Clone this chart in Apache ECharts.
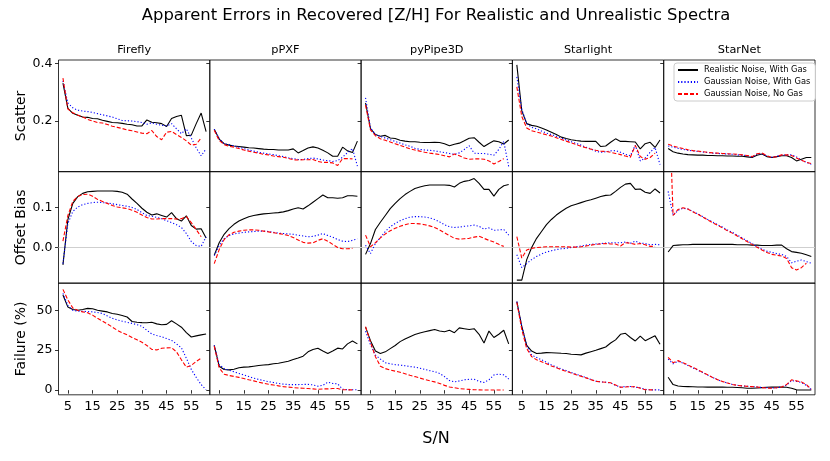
<!DOCTYPE html>
<html>
<head>
<meta charset="utf-8">
<script src="https://cdn.jsdelivr.net/npm/echarts@6/dist/echarts.min.js"></script>
<style>html,body{margin:0;padding:0;background:#fff;}#c{width:830px;height:461px;}</style>
</head>
<body>
<div id="c"></div>
<script>
// ---- data ----
const snr = [3,5,7,9,11,13,15,17,19,21,23,25,27,29,31,33,35,37,39,41,43,45,47,49,51,53,55,57,59,61];
const methods = ['Firefly','pPXF','pyPipe3D','Starlight','StarNet'];
const seriesNames = ['Realistic Noise, With Gas','Gaussian Noise, With Gas','Gaussian Noise, No Gas'];
const rowNames = ['Scatter','Offset Bias','Failure (%)'];
const snrTicks = [5,15,25,35,45,55];
const scatterTicks = [0.2,0.4];
const biasTicks = [0.0,0.1];
const failTicks = [0,25,50];

// Firefly
const FF_S_R = [0.331,0.243,0.226,0.219,0.213,0.212,0.208,0.207,0.202,0.198,0.194,0.193,0.191,0.188,0.186,0.182,0.182,0.203,0.195,0.193,0.19,0.18,0.208,0.215,0.219,0.148,0.15,0.19,0.227,0.162];
const FF_S_G = [0.339,0.262,0.245,0.237,0.234,0.232,0.229,0.225,0.221,0.217,0.213,0.207,0.201,0.200,0.199,0.197,0.194,0.188,0.193,0.188,0.184,0.182,0.19,0.172,0.155,0.172,0.14,0.105,0.078,0.102];
const FF_S_N = [0.349,0.241,0.228,0.220,0.213,0.205,0.199,0.194,0.192,0.187,0.181,0.177,0.173,0.168,0.165,0.161,0.157,0.155,0.166,0.145,0.134,0.16,0.163,0.152,0.142,0.13,0.115,0.118,0.14,null];
const FF_O_R = [-0.043,0.07,0.11,0.127,0.135,0.139,0.14,0.141,0.141,0.141,0.141,0.14,0.138,0.133,0.121,0.11,0.098,0.088,0.081,0.084,0.080,0.076,0.087,0.072,0.066,0.079,0.055,0.046,0.047,0.024];
const FF_O_G = [-0.04,0.06,0.09,0.101,0.107,0.11,0.112,0.113,0.112,0.111,0.109,0.107,0.105,0.103,0.1,0.095,0.087,0.08,0.078,0.075,0.072,0.067,0.062,0.057,0.05,0.035,0.015,0.005,0.003,0.027];
const FF_O_N = [0.016,0.08,0.115,0.127,0.132,0.133,0.128,0.12,0.115,0.11,0.105,0.101,0.099,0.097,0.093,0.088,0.081,0.075,0.071,0.071,0.072,0.072,0.072,0.071,0.072,0.077,0.062,0.045,0.027,null];
const FF_F_R = [59.6,52,50.5,50,50.5,51.2,51,50,49.5,49,48,47.5,46.8,45.8,43,42.5,42.3,42.2,42.5,41.5,41,41.2,43.5,41.5,39.4,36,33.3,34,34.6,35.2];
const FF_F_G = [60.6,53,50,49.5,49.4,49.2,49,48.6,48,46.5,45,44,43.2,42.5,41.8,41,40,37.5,35.2,34.2,33.5,32.3,31.2,29,26.5,20,13,8,3.5,0.3];
const FF_F_N = [63.1,56.5,51.5,50,49,48.5,47,45,43.3,41.5,39.5,37.5,36,34.6,33,31.5,30,28,25.5,25.2,26.2,26.5,26.6,24,19,14.4,15.5,18,20,null];
// pPXF
const PP_S_R = [0.170,0.136,0.120,0.115,0.112,0.110,0.108,0.106,0.105,0.103,0.101,0.100,0.100,0.098,0.098,0.098,0.102,0.088,0.096,0.105,0.109,0.105,0.097,0.088,0.076,0.076,0.108,0.095,0.089,0.129];
const PP_S_G = [0.17,0.138,0.12,0.117,0.112,0.108,0.103,0.098,0.094,0.09,0.087,0.084,0.082,0.078,0.075,0.071,0.068,0.065,0.065,0.068,0.07,0.067,0.063,0.061,0.058,0.061,0.073,0.089,0.103,0.042];
const PP_S_N = [0.167,0.131,0.117,0.111,0.108,0.103,0.098,0.094,0.09,0.087,0.083,0.081,0.077,0.075,0.073,0.069,0.064,0.063,0.064,0.064,0.065,0.058,0.055,0.055,0.053,0.044,0.068,0.068,0.067,null];
const PP_O_R = [-0.019,0.012,0.033,0.047,0.058,0.066,0.072,0.077,0.08,0.082,0.084,0.085,0.086,0.087,0.089,0.092,0.096,0.099,0.096,0.104,0.113,0.122,0.131,0.124,0.124,0.123,0.124,0.129,0.129,0.128];
const PP_O_G = [-0.02,0.005,0.022,0.03,0.034,0.036,0.038,0.039,0.04,0.041,0.041,0.04,0.038,0.036,0.035,0.034,0.033,0.031,0.029,0.027,0.028,0.031,0.035,0.03,0.026,0.02,0.016,0.015,0.018,0.022];
const PP_O_N = [-0.04,-0.005,0.02,0.032,0.038,0.041,0.043,0.044,0.044,0.043,0.041,0.039,0.037,0.035,0.033,0.03,0.025,0.019,0.013,0.011,0.012,0.018,0.022,0.016,0.008,0.0,-0.003,-0.003,-0.002,null];
const PP_F_R = [28.1,15,12.9,12.7,13.1,14,14.4,14.6,15,15.4,15.8,16,16.5,16.9,17.5,18.1,19.2,20.2,21.3,24,25.5,26.2,24.5,23,24.5,26.3,25.8,29,30.8,29];
const PP_F_G = [28,16,13.5,12.5,11.5,10.5,9.5,8.5,7.5,6.7,6,5.3,4.8,4.2,3.8,3.5,3.5,3.5,3.6,3.6,3.3,2.5,3,5,4.2,4,0.6,0.3,0.3,0.3];
const PP_F_N = [27.5,14,10,9.2,8.6,8,7.3,6.5,5.8,5,4.3,3.7,3.2,2.7,2.2,1.9,1.6,1.4,1.2,1.0,0.8,0.5,0.8,0.8,1.0,1.0,0.3,0.2,0.2,null];
// pyPipe3D
const PY_S_R = [0.262,0.173,0.152,0.146,0.149,0.14,0.138,0.132,0.129,0.127,0.127,0.125,0.124,0.124,0.125,0.124,0.12,0.113,0.118,0.122,0.13,0.139,0.141,0.125,0.11,0.121,0.13,0.127,0.119,0.133];
const PY_S_G = [0.28,0.175,0.152,0.145,0.14,0.134,0.128,0.122,0.116,0.111,0.104,0.1,0.098,0.097,0.095,0.092,0.089,0.086,0.083,0.088,0.1,0.113,0.087,0.086,0.086,0.083,0.08,0.1,0.128,0.04];
const PY_S_N = [0.255,0.168,0.148,0.137,0.132,0.126,0.12,0.114,0.108,0.102,0.098,0.094,0.09,0.087,0.085,0.082,0.078,0.074,0.084,0.078,0.07,0.066,0.067,0.067,0.066,0.06,0.049,0.058,0.068,null];
const PY_O_R = [-0.017,0.01,0.045,0.063,0.08,0.097,0.11,0.122,0.132,0.14,0.147,0.151,0.154,0.156,0.156,0.156,0.156,0.155,0.151,0.16,0.165,0.167,0.172,0.16,0.145,0.145,0.128,0.145,0.154,0.157];
const PY_O_G = [0.006,-0.015,0.01,0.025,0.04,0.052,0.06,0.067,0.072,0.076,0.077,0.077,0.076,0.074,0.07,0.064,0.057,0.052,0.05,0.051,0.053,0.054,0.056,0.053,0.046,0.049,0.043,0.044,0.045,0.031];
const PY_O_N = [0.031,0.002,0.012,0.024,0.034,0.042,0.048,0.053,0.057,0.06,0.06,0.059,0.057,0.054,0.05,0.044,0.037,0.03,0.023,0.021,0.022,0.023,0.026,0.028,0.023,0.018,0.014,0.008,0.003,null];
const PY_F_R = [39.5,31,24.5,23,24,26,28,30.4,32,33.5,34.8,35.8,36.6,37.3,38,37,36.6,37.5,36,39,38.5,38,38.5,35,29.5,37,33,35,37.5,29];
const PY_F_G = [37,28.5,22,19.5,17.2,16.5,16,15.7,15.3,14.8,14.4,13.8,13,12.2,11.6,10.5,8.5,6,5.2,5.8,6.5,6.8,6.8,5.5,4.8,6.5,9.5,10,9.6,7];
const PY_F_N = [39.8,30,21,15,13.5,12.6,11.9,11.2,10.3,9.3,8.5,7.6,6.7,5.9,5.2,4.2,3,2,1.5,1,0.7,0.5,0.3,0.2,0.1,0.1,0.1,0.1,0.1,null];
// Starlight
const SL_S_R = [0.395,0.235,0.19,0.184,0.181,0.175,0.168,0.16,0.152,0.143,0.138,0.134,0.131,0.129,0.128,0.128,0.128,0.11,0.112,0.125,0.137,0.128,0.128,0.127,0.126,0.102,0.12,0.125,0.107,0.133];
const SL_S_G = [0.353,0.24,0.19,0.177,0.172,0.164,0.157,0.152,0.146,0.14,0.133,0.127,0.121,0.115,0.108,0.102,0.094,0.09,0.092,0.095,0.096,0.09,0.083,0.078,0.115,0.06,0.07,0.09,0.107,0.047];
const SL_S_N = [0.318,0.215,0.175,0.165,0.161,0.156,0.151,0.147,0.141,0.135,0.129,0.123,0.117,0.111,0.106,0.101,0.097,0.094,0.093,0.09,0.086,0.082,0.077,0.073,0.114,0.075,0.066,0.072,0.087,null];
const SL_O_R = [-0.081,-0.081,-0.03,0.0,0.023,0.04,0.057,0.07,0.081,0.09,0.098,0.104,0.108,0.112,0.116,0.119,0.123,0.127,0.13,0.131,0.14,0.15,0.158,0.16,0.145,0.146,0.138,0.135,0.146,0.136];
const SL_O_G = [-0.018,-0.05,-0.04,-0.03,-0.022,-0.016,-0.011,-0.008,-0.005,-0.003,-0.002,0.0,0.002,0.004,0.006,0.008,0.009,0.01,0.011,0.012,0.012,0.012,0.014,0.011,0.016,0.011,0.01,0.007,0.008,0.007];
const SL_O_N = [0.027,-0.026,-0.006,-0.002,0.0,0.001,0.002,0.002,0.002,0.002,0.002,0.001,0.001,0.002,0.004,0.006,0.008,0.009,0.01,0.009,0.009,0.004,0.012,0.011,0.008,0.01,0.007,0.003,0.003,null];
const SL_F_R = [55.4,40,28,24.5,23,23.2,23.5,23.4,23.3,23.1,23,22.5,22.3,22.1,23.2,24.1,25,26,27,29.5,31.5,35,35.6,33,30.8,33.8,31,32.5,34,28.7];
const SL_F_G = [55.4,40,28,22,20.5,19,17.5,15.8,14.6,13.3,12.3,11.1,10,9,7.9,6.7,5.6,5.2,5,4.5,3,1.9,2.3,2.3,1.9,1.5,0.5,0.2,0.2,0.2];
const SL_F_N = [55,38,26,21,19,17.8,16.5,15.2,14,12.8,11.8,10.7,9.7,8.7,7.7,6.6,5.5,5.2,5,4.6,3.2,1.8,2,2.2,2.1,1.2,0.3,0.2,0.2,null];
// StarNet
const SN_S_R = [0.103,0.092,0.087,0.084,0.082,0.081,0.08,0.08,0.079,0.079,0.078,0.078,0.077,0.077,0.076,0.076,0.074,0.072,0.08,0.084,0.075,0.072,0.075,0.078,0.078,0.072,0.06,0.066,0.072,0.072];
const SN_S_G = [0.112,0.108,0.104,0.1,0.097,0.095,0.093,0.091,0.089,0.087,0.086,0.085,0.084,0.083,0.081,0.08,0.078,0.073,0.083,0.086,0.077,0.073,0.076,0.08,0.081,0.081,0.074,0.063,0.055,0.048];
const SN_S_N = [0.118,0.112,0.107,0.103,0.099,0.096,0.094,0.092,0.09,0.088,0.087,0.086,0.085,0.084,0.083,0.081,0.079,0.075,0.085,0.088,0.078,0.072,0.075,0.081,0.081,0.079,0.07,0.062,0.055,0.051];
const SN_O_R = [-0.011,0.005,0.006,0.007,0.007,0.008,0.008,0.008,0.008,0.008,0.008,0.008,0.008,0.008,0.007,0.007,0.007,0.006,0.006,0.005,0.005,0.005,0.006,0.006,-0.003,-0.01,-0.012,-0.014,-0.018,-0.022];
const SN_O_G = [0.14,0.08,0.093,0.098,0.096,0.09,0.084,0.077,0.07,0.064,0.057,0.051,0.044,0.038,0.031,0.024,0.017,0.01,0.002,-0.004,-0.009,-0.012,-0.015,-0.017,-0.022,-0.038,-0.034,-0.031,-0.035,-0.039];
const SN_O_N = [0.44,0.08,0.095,0.099,0.096,0.089,0.083,0.076,0.069,0.062,0.056,0.049,0.042,0.036,0.029,0.022,0.015,0.008,0.001,-0.006,-0.012,-0.017,-0.019,-0.021,-0.027,-0.05,-0.056,-0.05,-0.039,null];
const SN_F_R = [8.1,3.5,2.6,2.3,2.2,2.1,2,2,1.9,1.9,1.9,1.9,1.8,1.8,1.7,1.5,1.2,1.2,1.4,1.6,1.8,1.9,1.9,1.9,1.8,1.2,0.2,0.1,0.1,0.1];
const SN_F_G = [19.5,16.5,18,17,15.5,14,12.5,11,9.5,8,6.6,5.4,4.5,3.6,3,2.7,2.4,2.2,2,1.7,1.5,1.3,1.5,2,3.2,6,5.5,4.8,3,0.3];
const SN_F_N = [20.6,17.2,18.5,17.2,15.8,14.3,12.8,11.2,9.6,8,6.6,5.4,4.5,3.6,3,2.7,2.4,2.2,2,1.6,1.3,1.2,1.5,2,3.5,6.5,5.8,5.2,3.5,0.5];

const panels = [
  [[FF_S_R,FF_S_G,FF_S_N],[PP_S_R,PP_S_G,PP_S_N],[PY_S_R,PY_S_G,PY_S_N],[SL_S_R,SL_S_G,SL_S_N],[SN_S_R,SN_S_G,SN_S_N]],
  [[FF_O_R,FF_O_G,FF_O_N],[PP_O_R,PP_O_G,PP_O_N],[PY_O_R,PY_O_G,PY_O_N],[SL_O_R,SL_O_G,SL_O_N],[SN_O_R,SN_O_G,SN_O_N]],
  [[FF_F_R,FF_F_G,FF_F_N],[PP_F_R,PP_F_G,PP_F_N],[PY_F_R,PY_F_G,PY_F_N],[SL_F_R,SL_F_G,SL_F_N],[SN_F_R,SN_F_G,SN_F_N]]
];

// ---- layout / style ----
const FONT = 'DejaVu Sans';
const colLeft = [58.5, 209.8, 361.1, 512.4, 663.7];
const colW = 151.3;
const rowTop = [60, 171.5, 283];
const rowH = 111.8;
const yRange = [[0.022,0.412],[-0.089,0.1895],[-2.9,67.1]];
const yTicks = [scatterTicks, biasTicks, failTicks];
const yFmt = [v => v.toFixed(1), v => v.toFixed(1), v => String(Math.round(v))];
const styles = [
  {color:'#000000', type:'solid'},
  {color:'#0000ff', type:[1.2,2]},
  {color:'#ff0000', type:[4,2]}
];

const grids = [], xAxes = [], yAxes = [], series = [];
let k = 0;
for (let r = 0; r < 3; r++) {
  for (let c = 0; c < 5; c++) {
    grids.push({left: colLeft[c], top: rowTop[r], width: colW, height: rowH, show: true,
      borderColor: '#000', borderWidth: 0.8, backgroundColor: 'transparent', containLabel: false});
    xAxes.push({type:'value', gridIndex:k, min:1.2, max:62.5,
      axisLine:{show:false}, splitLine:{show:false},
      axisTick:{show: r===2, customValues: snrTicks, length:3.5, lineStyle:{color:'#000', width:0.8}},
      axisLabel:{show: r===2, customValues: snrTicks, margin:5, fontSize:13, color:'#000', fontFamily:FONT}
    });
    yAxes.push({type:'value', gridIndex:k, min:yRange[r][0], max:yRange[r][1],
      axisLine:{show:false}, splitLine:{show:false},
      axisTick:{show:true, customValues: yTicks[r], length:3.5, lineStyle:{color:'#000', width:0.8}},
      axisLabel:{show: c===0, customValues: yTicks[r], formatter: yFmt[r], margin:6, fontSize:12.5, color:'#000', fontFamily:FONT},
      name: c===0 ? rowNames[r] : '', nameLocation:'middle', nameGap:30,
      nameTextStyle:{fontSize:14, color:'#000', fontFamily:FONT}
    });
    for (let s = 0; s < 3; s++) {
      const arr = panels[r][c][s];
      const ser = {type:'line', name: seriesNames[s], xAxisIndex:k, yAxisIndex:k,
        data: snr.map((x,i) => [x, arr[i] === null ? '-' : arr[i]]),
        showSymbol:false, symbol:'none', symbolSize:0, clip:true, z: 3+s,
        lineStyle:{color: styles[s].color, type: styles[s].type, width:1.1},
        itemStyle:{color: styles[s].color},
        emphasis:{disabled:true}
      };
      if (r === 1 && s === 0) {
        ser.markLine = {silent:true, symbol:'none', label:{show:false}, animation:false,
          lineStyle:{color:'#cfcfcf', width:1, type:'solid'}, data:[{yAxis:0}], z:1};
      }
      series.push(ser);
    }
    k++;
  }
}

const titles = [{text:'Apparent Errors in Recovered [Z/H] For Realistic and Unrealistic Spectra',
  left:436, top:8, textAlign:'center', padding:0,
  textStyle:{fontSize:16.4, fontWeight:'normal', color:'#000', fontFamily:FONT}}];
methods.forEach((m,c) => titles.push({text:m, left: colLeft[c] + colW/2, top:45, textAlign:'center', padding:0,
  textStyle:{fontSize:11.3, fontWeight:'normal', color:'#000', fontFamily:FONT}}));
titles.push({text:'S/N', left:436, top:431, textAlign:'center', padding:0,
  textStyle:{fontSize:16, fontWeight:'normal', color:'#000', fontFamily:FONT}});

const chart = echarts.init(document.getElementById('c'));
chart.setOption({
  animation:false,
  backgroundColor:'#ffffff',
  title: titles,
  legend:{data: seriesNames, orient:'vertical', left:674, top:63, itemWidth:20, itemHeight:8, itemGap:4,
    padding:[3,5,3,3], borderColor:'#cccccc', borderWidth:1, borderRadius:3, backgroundColor:'#ffffff',
    itemStyle:{opacity:0},
    textStyle:{fontSize:8.3, color:'#000', fontFamily:FONT, padding:[0,0,0,1]}, selectedMode:false},
  grid: grids, xAxis: xAxes, yAxis: yAxes, series: series
});
</script>
</body>
</html>
